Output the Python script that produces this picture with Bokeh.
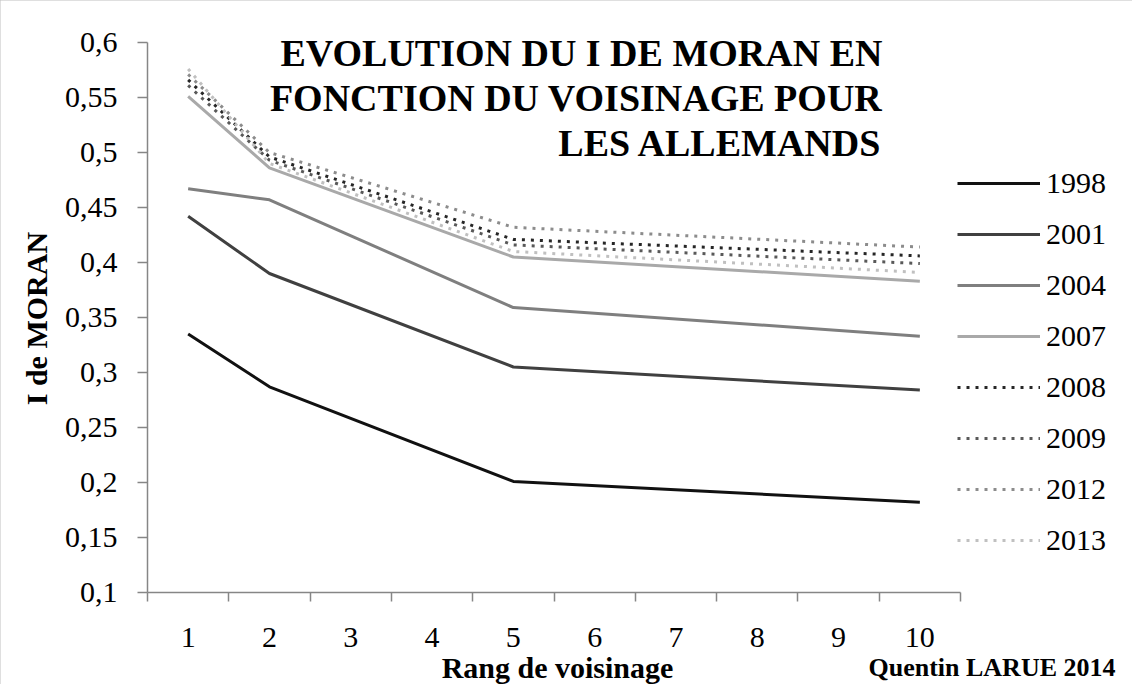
from bokeh.plotting import figure
from bokeh.models import (Range1d, FixedTicker, CustomJSTickFormatter, Legend, LegendItem, Label)
from bokeh.embed import file_html
from bokeh.resources import INLINE

ranks = [1, 2, 5, 10]
categories = [1, 2, 3, 4, 5, 6, 7, 8, 9, 10]
years = ["1998", "2001", "2004", "2007", "2008", "2009", "2012", "2013"]
v1998 = [0.335, 0.287, 0.201, 0.182]
v2001 = [0.442, 0.390, 0.305, 0.284]
v2004 = [0.467, 0.457, 0.359, 0.333]
v2007 = [0.551, 0.486, 0.405, 0.383]
v2008 = [0.566, 0.496, 0.421, 0.406]
v2009 = [0.561, 0.493, 0.416, 0.399]
v2012 = [0.571, 0.500, 0.432, 0.414]
v2013 = [0.576, 0.490, 0.410, 0.391]
y_ticks = [0.1, 0.15, 0.2, 0.25, 0.3, 0.35, 0.4, 0.45, 0.5, 0.55, 0.6]

series = [v1998, v2001, v2004, v2007, v2008, v2009, v2012, v2013]
colors = ["#111111", "#404040", "#7f7f7f", "#a9a9a9", "#262626", "#595959", "#8c8c8c", "#c0c0c0"]
dashes = ["solid", "solid", "solid", "solid", "3 6", "3 6", "3 6", "3 6"]

FONT = "Liberation Serif"
W, H = 1132, 684
# plot area: x 0.5..10.5 over px 147..960, y 0.1..0.6 over px 592..42
PX_X = 813 / 10.0
PX_Y = 550 / 0.5
x0 = 0.5 - 147 / PX_X
x1 = 0.5 + (W - 147) / PX_X
y1 = 0.6 + 42 / PX_Y
y0 = 0.6 - (H - 42) / PX_Y

p = figure(width=W, height=H, output_backend="svg", toolbar_location=None,
           x_range=Range1d(x0, x1), y_range=Range1d(y0, y1),
           min_border_left=0, min_border_top=0, min_border_bottom=0, min_border_right=0)
p.outline_line_color = None
p.xgrid.visible = False
p.ygrid.visible = False
p.background_fill_color = "white"
p.border_fill_color = "white"

# axes
p.yaxis.fixed_location = 0.5
p.yaxis.bounds = (0.1, 0.6)
p.xaxis.fixed_location = 0.1
p.xaxis.bounds = (0.5, 10.5)
p.yaxis.ticker = FixedTicker(ticks=y_ticks)
p.yaxis.formatter = CustomJSTickFormatter(code="""
var s = tick.toFixed(2);
s = s.replace(/0+$/, '').replace(/\\.$/, '');
return s.replace('.', ',');
""")
p.xaxis.ticker = FixedTicker(ticks=categories, minor_ticks=[c - 0.5 for c in categories] + [10.5])
for ax in (p.xaxis, p.yaxis):
    ax.axis_line_color = "#868686"
    ax.axis_line_width = 1.5
    ax.major_tick_line_color = "#868686"
    ax.major_tick_line_width = 1.5
    ax.minor_tick_line_color = "#868686"
    ax.minor_tick_line_width = 1.5
    ax.major_label_text_font = FONT
    ax.major_label_text_font_size = "30px"
    ax.major_label_text_color = "#000000"
p.yaxis.major_tick_out = 10
p.yaxis.major_tick_in = 0
p.yaxis.minor_tick_out = 0
p.yaxis.minor_tick_in = 0
p.yaxis.major_label_standoff = 20
p.xaxis.major_tick_out = 0
p.xaxis.major_tick_in = 0
p.xaxis.minor_tick_out = 9
p.xaxis.minor_tick_in = 0
p.xaxis.major_label_standoff = 26

items = []
for yr, vals, c, d in zip(years, series, colors, dashes):
    r = p.line(ranks, vals, line_color=c, line_width=3, line_dash=d)
    items.append(LegendItem(label=yr, renderers=[r]))

legend = Legend(items=items, location=(957, 126), orientation="vertical",
                glyph_width=83, glyph_height=36, label_height=36, spacing=15,
                label_standoff=6, padding=0, margin=0,
                label_text_font=FONT, label_text_font_size="30px",
                label_text_color="#000000",
                border_line_color=None, background_fill_alpha=0)
p.add_layout(legend, "center")

# titles and texts
title_lines = ["EVOLUTION DU I DE MORAN EN", "FONCTION DU VOISINAGE POUR", "LES ALLEMANDS"]
title_y = [0.5909, 0.5491, 0.5082]
for t, ty in zip(title_lines, title_y):
    p.add_layout(Label(x=9.54, y=ty, text=t, text_align="right", text_baseline="middle",
                       text_font=FONT, text_font_size="38px", text_font_style="bold",
                       text_color="#000000"))

p.add_layout(Label(x=-0.865, y=0.349, text="I de MORAN", angle=1.5708, text_align="center",
                   text_baseline="middle", text_font=FONT, text_font_size="30px",
                   text_font_style="bold", text_color="#000000"))
p.add_layout(Label(x=5.543, y=0.0318, text="Rang de voisinage", text_align="center",
                   text_baseline="middle", text_font=FONT, text_font_size="30px",
                   text_font_style="bold", text_color="#000000"))
p.add_layout(Label(x=9.368, y=0.0318, text="Quentin LARUE 2014", text_align="left",
                   text_baseline="middle", text_font=FONT, text_font_size="26px",
                   text_font_style="bold", text_color="#000000"))

p.styles = {"outline": "1px solid #bfbfbf", "outline-offset": "-1px"}

open("out.html", "w").write(file_html(p, INLINE))
